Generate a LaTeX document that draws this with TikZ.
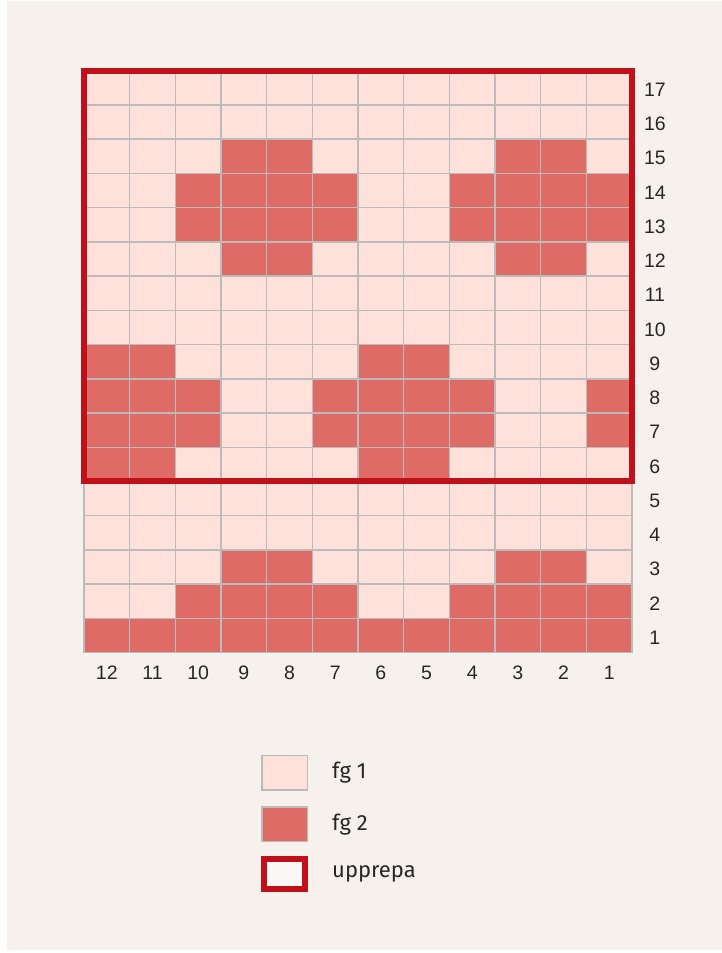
\documentclass[tikz,border=0pt]{standalone}
\usepackage{fontspec}
\setmainfont{Liberation Sans}
\newfontfamily\legendfont{Fira Sans}
\usetikzlibrary{positioning}
\definecolor{bgbeige}{HTML}{F7F1EE}
\definecolor{fglight}{HTML}{FDE1DA}
\definecolor{fgdark}{HTML}{DE6B66}
\definecolor{gridgray}{HTML}{BBBBBB}
\definecolor{framered}{HTML}{C0111B}

\begin{document}
\begin{tikzpicture}[x=1pt,y=1pt,
  numlabel/.style={font=\fontsize{19.5}{22}\selectfont,text=black!85,inner sep=0pt},
  legbox/.style={draw=gridgray,line width=1.5pt,minimum width=45.5pt,minimum height=34.5pt,inner sep=0pt},
  repbox/.style={draw=framered,line width=6pt,fill=bgbeige!60!white,minimum width=41pt,minimum height=30pt,inner sep=0pt},
  legtext/.style={font=\legendfont\fontsize{22}{24}\selectfont,text=black!85,inner sep=0pt,anchor=west}]
\useasboundingbox (0,0) rectangle (722,953);
\fill[white] (0,0) rectangle (722,953);
\fill[bgbeige] (7,3) rectangle (722,952);

% chart: columns 1..12 left to right, rows 1..17 bottom to top
\begin{scope}[shift={(84,300.3)},x=45.67pt,y=34.24pt]
  \fill[fglight] (0,0) rectangle (12,17);
  \foreach \r/\cols in {15/{4,5,10,11},14/{3,4,5,6,9,10,11,12},13/{3,4,5,6,9,10,11,12},
      12/{4,5,10,11},9/{1,2,7,8},8/{1,2,3,6,7,8,9,12},7/{1,2,3,6,7,8,9,12},6/{1,2,7,8},
      3/{4,5,10,11},2/{3,4,5,6,9,10,11,12},1/{1,2,3,4,5,6,7,8,9,10,11,12}}
    \foreach \c in \cols
      \fill[fgdark] (\c-1,\r-1) rectangle (\c,\r);
  % grid lines
  \foreach \c in {0,...,12}
    \draw[gridgray,line width=1.5pt] (\c,0) -- (\c,17);
  \foreach \r in {0,...,17}
    \draw[gridgray,line width=1.5pt] (0,\r) -- (12,\r);
  % repeat frame
  \draw[framered,line width=6pt] (0,5) rectangle (12,17);
  % row numbers
  \foreach \r in {1,...,17}
    \node[numlabel] (row\r) at (12.5,\r-0.56) {\r};
  % column numbers
  \foreach \c [evaluate=\c as \n using int(13-\c)] in {1,...,12}
    \node[numlabel] (col\n) at (\c-0.5,-0.578) {\n};
\end{scope}

% legend
\node[legbox,fill=fglight] (keylight) at (284.5,180) {};
\node[legbox,fill=fgdark] (keydark) at (284.5,128.5) {};
\node[repbox] (keyrep) at (284.5,79) {};
\node[legtext,right=24pt of keylight] (txtlight) {fg 1};
\node[legtext,right=24pt of keydark] (txtdark) {fg 2};
\node[legtext,right=24pt of keyrep] (txtrep) {upprepa};
\end{tikzpicture}
\end{document}
